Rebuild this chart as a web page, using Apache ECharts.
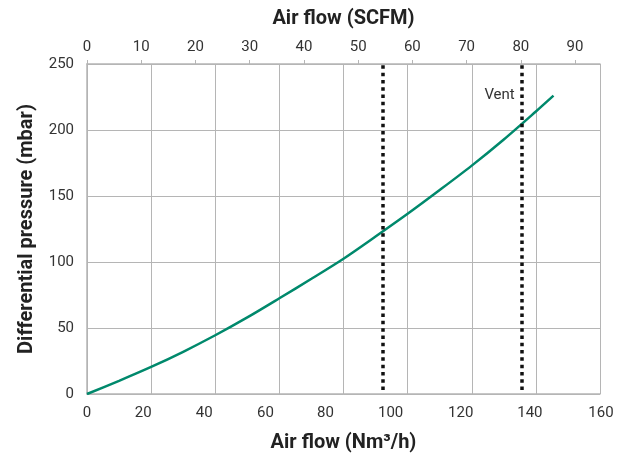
<!DOCTYPE html>
<html>
<head>
<meta charset="utf-8">
<script src="https://cdn.jsdelivr.net/npm/echarts@6/dist/echarts.min.js"></script>
<style>
    html, body { margin: 0; padding: 0; background: #fff; }
    #pressureChart { width: 622px; height: 458px; }
</style>
</head>
<body>
<div id="pressureChart"></div>
<script>
// air flow in Nm3/h and differential pressure in mbar
var flowNm3 = [0, 10, 20, 30, 40, 50, 60, 70, 80, 90, 100, 110, 120, 130, 140, 145.5];
var pressure = [0, 10, 20.5, 32, 44.5, 58, 72.5, 87.3, 102.5, 119.3, 136.5, 154.5, 173, 192.8, 214, 226];

// dotted reference lines (Nm3/h)
var markFlows = [92.1, 135.6];
var ventLabel = 'Vent';
var ventPoint = [135.6, 226];

var bottomTicks = [0, 20, 40, 60, 80, 100, 120, 140, 160];
var topTicks = [0, 10, 20, 30, 40, 50, 60, 70, 80, 90];
var yTicks = [0, 50, 100, 150, 200, 250];
var topMax = 94.6;

// the original's bottom labels sit a little left of their grid lines
var bottomLabelShift = [0, -8, -11, -14, -18, -17, -11, -6, 1];

var curveData = [];
for (var i = 0; i < flowNm3.length; i++) {
    curveData.push([flowNm3[i], pressure[i]]);
}

var dotLines = [];
for (var j = 0; j < markFlows.length; j++) {
    dotLines.push([{coord: [markFlows[j], 3]}, {coord: [markFlows[j], 250]}]);
}

var gridColor = '#b5b5b5';
var labelColor = '#333';
var tickFont = {color: labelColor, fontFamily: 'Roboto', fontSize: 15};
var titleStyle = {fontFamily: 'Roboto', fontSize: 20, fontWeight: 'bold', color: '#222'};

var bottomRich = {};
for (var k = 0; k < bottomTicks.length; k++) {
    var s = bottomLabelShift[k];
    bottomRich['s' + k] = {
        color: labelColor, fontFamily: 'Roboto', fontSize: 15,
        padding: s < 0 ? [0, -2 * s, 0, 0] : [0, 0, 0, 2 * s]
    };
}

var option = {
    animation: false,
    grid: {left: 87, right: 22, top: 64, bottom: 62},
    xAxis: [
        {
            type: 'value',
            position: 'bottom',
            min: bottomTicks[0],
            max: bottomTicks[bottomTicks.length - 1],
            interval: 20,
            name: 'Air flow (Nm³/h)',
            nameLocation: 'middle',
            nameGap: 39,
            nameTextStyle: titleStyle,
            axisLine: {lineStyle: {color: gridColor, width: 1.5}},
            axisTick: {show: false},
            axisLabel: {
                margin: 12,
                rich: bottomRich,
                formatter: function (v) {
                    var idx = bottomTicks.indexOf(v);
                    return idx >= 0 ? '{s' + idx + '|' + v + '}' : '';
                }
            },
            splitLine: {show: true, lineStyle: {color: gridColor, width: 1}}
        },
        {
            type: 'value',
            position: 'top',
            min: topTicks[0],
            max: topMax,
            interval: 10,
            name: 'Air flow (SCFM)',
            nameLocation: 'middle',
            nameGap: 35,
            nameTextStyle: titleStyle,
            axisLine: {lineStyle: {color: gridColor, width: 1.5}},
            axisTick: {show: true, length: 4, lineStyle: {color: gridColor}},
            axisLabel: Object.assign({margin: 9, showMaxLabel: false,
                formatter: function (v) { return topTicks.indexOf(v) >= 0 ? v : ''; }}, tickFont),
            splitLine: {show: false}
        }
    ],
    yAxis: {
        type: 'value',
        min: yTicks[0],
        max: yTicks[yTicks.length - 1],
        interval: 50,
        name: 'Differential pressure (mbar)',
        nameLocation: 'middle',
        nameGap: 50,
        nameTextStyle: titleStyle,
        axisLine: {show: true, lineStyle: {color: gridColor, width: 1.5}},
        axisTick: {show: false},
        axisLabel: Object.assign({margin: 13}, tickFont),
        splitLine: {show: true, lineStyle: {color: gridColor, width: 1}}
    },
    series: [
        {
            type: 'line',
            xAxisIndex: 0,
            data: curveData,
            smooth: 0.3,
            symbol: 'none',
            lineStyle: {color: '#00896c', width: 2.5},
            markLine: {
                silent: true,
                symbol: 'none',
                label: {show: false},
                lineStyle: {color: '#111', width: 3.5, type: [3.5, 3.8]},
                data: dotLines
            },
            markPoint: {
                silent: true,
                symbol: 'circle',
                symbolSize: 0,
                label: Object.assign({show: true, position: 'left', distance: 7, formatter: ventLabel}, tickFont),
                data: [{coord: ventPoint}]
            }
        }
    ]
};

var myChart = echarts.init(document.getElementById('pressureChart'));
myChart.setOption(option);
</script>
</body>
</html>
